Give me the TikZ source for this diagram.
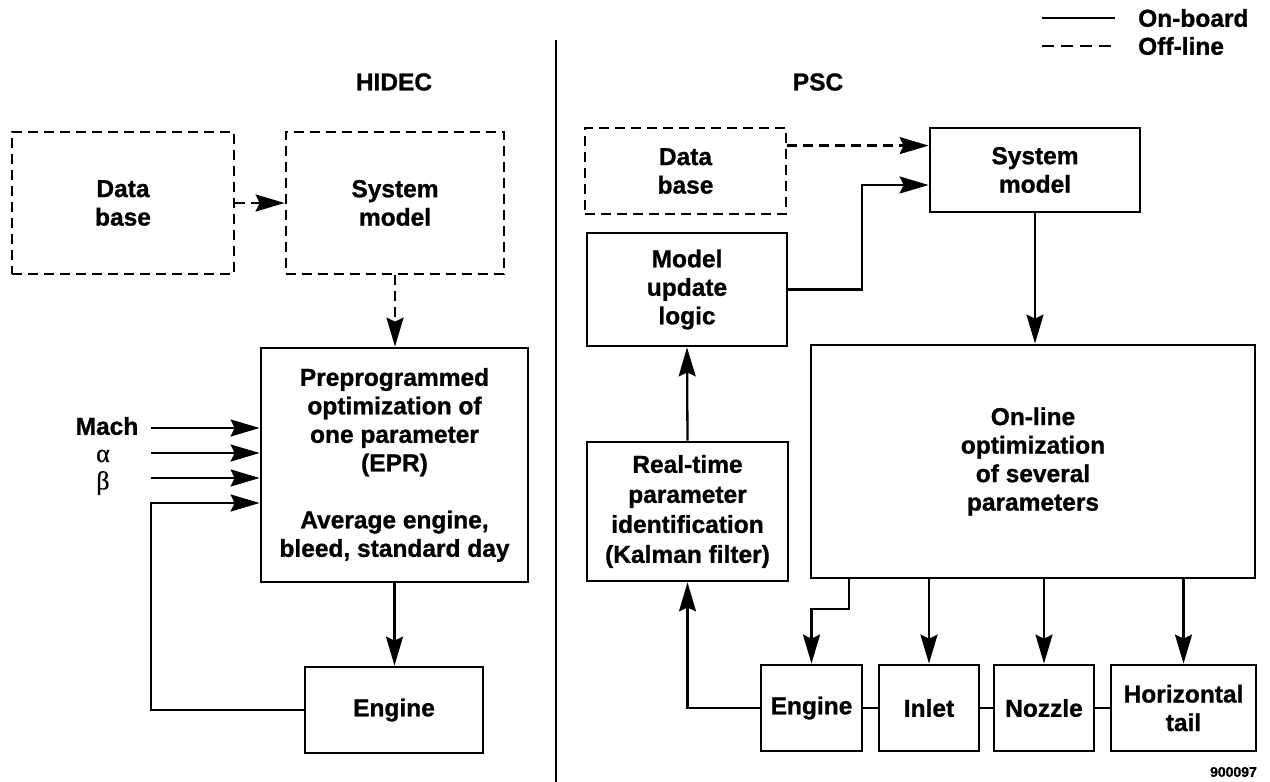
\documentclass[tikz,border=0pt]{standalone}
\usepackage{fontspec}
\setmainfont{Liberation Sans}[BoldFeatures={FakeBold=1}]
\newfontfamily\greekfont{Liberation Serif}[FakeBold=0.6]
\usetikzlibrary{arrows.meta,calc}
\tikzset{
  box/.style={draw=black, line width=2.8pt, inner sep=0pt, align=center},
  dbox/.style={box, dash pattern=on 10pt off 6pt},
  conn/.style={draw=black, line width=2.3pt},
  arr/.style={conn, -{Stealth[length=29pt,width=17pt,inset=4pt]}},
  darr/.style={arr, dash pattern=on 10pt off 6pt},
  title/.style={inner sep=0pt},
  lbl/.style={inner sep=0pt},
  greek/.style={inner sep=0pt, font=\fontsize{26}{26}\selectfont\greekfont},
}
\begin{document}
\begin{tikzpicture}[x=1pt,y=-1pt,font=\fontsize{24.5}{28.5}\selectfont\bfseries]
\useasboundingbox[fill=white] (0,0) rectangle (1270,782);

% divider
\coordinate (dtop) at (556,40);
\coordinate (dbot) at (556,782);
\draw[line width=2.5pt] (dtop) -- (dbot);

% titles
\node[title] (thidec) at (394,82) {HIDEC};
\node[title] (tpsc) at (818,82) {PSC};

% legend
\coordinate (l1a) at (1042,18); \coordinate (l1b) at (1115,18);
\coordinate (l2a) at (1042,46); \coordinate (l2b) at (1115,46);
\draw[line width=2.8pt] (l1a) -- (l1b);
\draw[line width=2.8pt, dash pattern=on 12pt off 7pt] (l2a) -- (l2b);
\node[lbl, anchor=west] (lon) at (1138,18) {On-board};
\node[lbl, anchor=west] (loff) at (1138,46) {Off-line};

% ---------------- HIDEC ----------------
\node[dbox, minimum width=222pt, minimum height=142pt] (hdb) at (123,203) {Data\\base};
\node[dbox, minimum width=218pt, minimum height=142pt] (hsm) at (395,203) {System\\model};
\node[box, minimum width=267pt, minimum height=234pt] (hpre) at (394.5,465)
  {Preprogrammed\\optimization of\\one parameter\\(EPR)\\[28.5pt]Average engine,\\bleed, standard day};
\node[box, minimum width=178pt, minimum height=86pt] (heng) at (394,710) {Engine};

\draw[darr] (hdb.east) -- (hsm.west);
\draw[darr] (hsm.south) -- (hsm.south |- hpre.north);
\draw[arr] (hpre.south) -- (hpre.south |- heng.north);

\node[lbl] (mach) at (107,426) {Mach};
\node[greek] (alpha) at (103,456) {α};
\node[greek] (beta) at (103,483) {β};
\coordinate (m1) at (151,428);
\coordinate (m2) at (151,453);
\coordinate (m3) at (151,478);
\coordinate (fb) at (151,503);
\draw[arr] (m1) -- (m1 -| hpre.west);
\draw[arr] (m2) -- (m2 -| hpre.west);
\draw[arr] (m3) -- (m3 -| hpre.west);
\draw[arr] (heng.west) -| (fb) -- (fb -| hpre.west);

% ---------------- PSC ----------------
\node[dbox, minimum width=201pt, minimum height=86pt] (pdb) at (685.5,171) {Data\\base};
\node[box, minimum width=210pt, minimum height=84pt] (psm) at (1035,170) {System\\model};
\node[box, minimum width=200pt, minimum height=113pt] (pmu) at (687,289.5) {Model\\update\\logic};
\node[box, minimum width=444pt, minimum height=233pt] (pon) at (1033,461.5) {On-line\\optimization\\of several\\parameters};
\node[box, minimum width=201pt, minimum height=139pt, font=\fontsize{24.5}{30}\selectfont\bfseries] (pkf) at (687.5,511.5) {Real-time\\parameter\\identification\\(Kalman filter)};
\node[box, minimum width=101pt, minimum height=86pt] (peng) at (811.5,708) {Engine};
\node[box, minimum width=100pt, minimum height=86pt] (pin) at (929,708) {Inlet};
\node[box, minimum width=100pt, minimum height=86pt] (pnz) at (1044,708) {Nozzle};
\node[box, minimum width=145pt, minimum height=86pt] (pht) at (1183.5,708) {Horizontal\\tail};

\draw[darr] ($(pdb.north east)+(0,19)$) -- ($(psm.north west)+(0,19)$);
\coordinate (j1) at (862,185);
\draw[arr] (pmu.east) -| (j1) -- (j1 -| psm.west);
\draw[arr] (psm.south) -- (psm.south |- pon.north);
\draw[arr] (pkf.north) -- (pmu.south);
\draw[arr] (peng.west) -| (pkf.south);
\coordinate (j2) at (849,609);
\draw[arr] (j2 |- pon.south) -- (j2) -| (peng.north);
\draw[arr] (pin.north |- pon.south) -- (pin.north);
\draw[arr] (pnz.north |- pon.south) -- (pnz.north);
\draw[arr] (pht.north |- pon.south) -- (pht.north);
\draw[conn] (peng.east) -- (pin.west);
\draw[conn] (pin.east) -- (pnz.west);
\draw[conn] (pnz.east) -- (pht.west);

\node[lbl, anchor=east, font=\fontsize{14}{16}\selectfont\bfseries] (code) at (1257,772) {900097};
\end{tikzpicture}
\end{document}
